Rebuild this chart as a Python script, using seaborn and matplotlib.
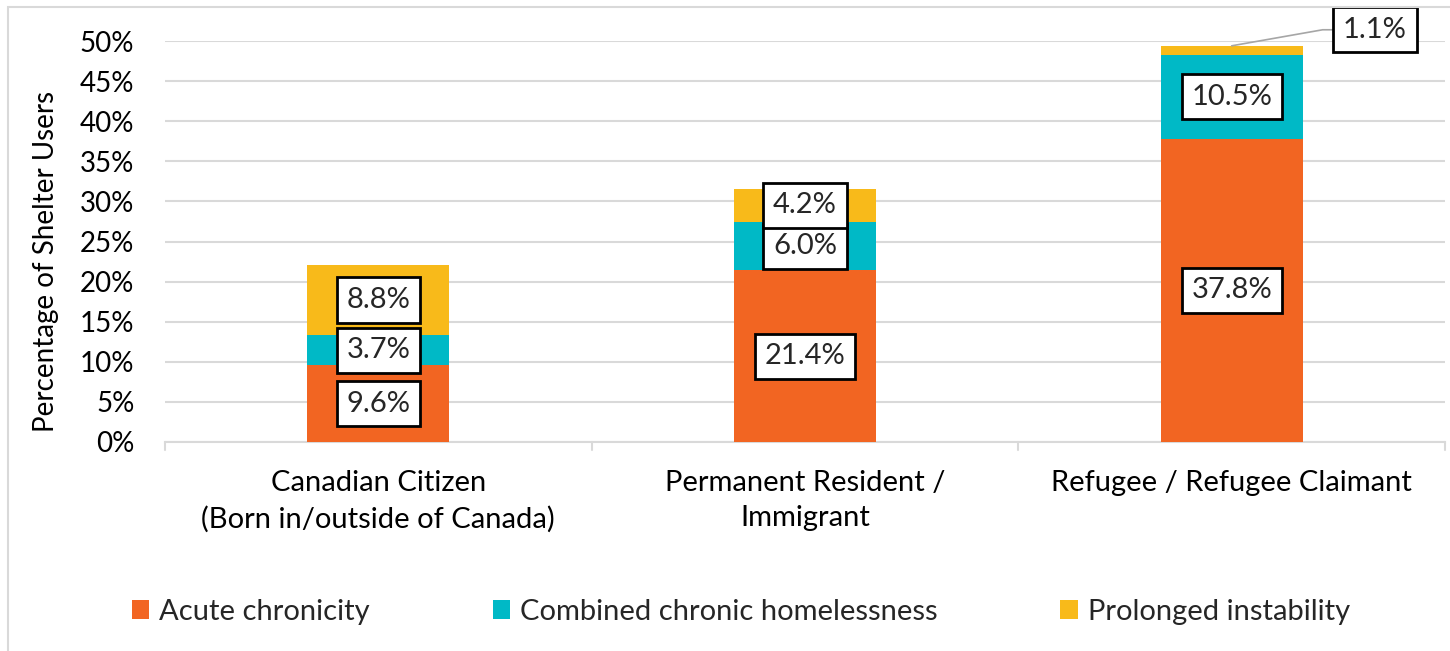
import matplotlib
matplotlib.use("Agg")
import matplotlib.pyplot as plt
from matplotlib.patches import Rectangle, Patch
from matplotlib.ticker import PercentFormatter, FixedLocator
import seaborn as sns
import pandas as pd
import numpy as np

# Shelter users by citizenship status, split by homelessness pattern (%)
categories = [
    "Canadian Citizen\n(Born in/outside of Canada)",
    "Permanent Resident /\nImmigrant",
    "Refugee / Refugee Claimant",
]
acute = [9.6, 21.4, 37.8]
combined = [3.7, 6.0, 10.5]
prolonged = [8.8, 4.2, 1.1]

series_names = ["Acute chronicity", "Combined chronic homelessness", "Prolonged instability"]
series_values = [acute, combined, prolonged]
colors = ["#F26522", "#00B9C6", "#F8BA1A"]

sns.set_theme(style="white")
plt.rcParams["font.family"] = ["Lato", "DejaVu Sans"]

fig = plt.figure(figsize=(14.5, 6.51), dpi=100)
ax = fig.add_axes([165 / 1450, 1 - 442 / 651, 1280 / 1450, 401 / 651])

# Outer frame
fig.patches.append(Rectangle((8 / 1450, -0.1), 1.2, 1.1 - 7 / 651, transform=fig.transFigure,
                             fill=False, edgecolor="#d9d9d9", linewidth=1.5, zorder=0))

vals = np.array(series_values)
cum = np.cumsum(vals, axis=0)

# Draw cumulative totals from the top layer down so each lower layer covers the one above
for i in reversed(range(len(series_names))):
    df = pd.DataFrame({"cat": categories, "val": cum[i]})
    sns.barplot(data=df, x="cat", y="val", color=colors[i], saturation=1,
                width=1 / 3, ax=ax, zorder=3, linewidth=0)

ax.set_ylim(0, 50)
ax.set_xlim(-0.5, 2.5)
ax.yaxis.set_major_locator(FixedLocator(np.arange(0, 51, 5)))
ax.yaxis.set_major_formatter(PercentFormatter(decimals=0))
ax.grid(axis="y", color="#d9d9d9", linewidth=1.5, zorder=0)
ax.set_axisbelow(True)
for s in ["top", "right", "left"]:
    ax.spines[s].set_visible(False)
ax.spines["bottom"].set_color("#d9d9d9")
ax.spines["bottom"].set_linewidth(1.5)
ax.spines["bottom"].set_zorder(1)

ax.tick_params(axis="y", labelsize=20, length=0, pad=22, colors="black")
ax.tick_params(axis="x", labelsize=21, length=0, pad=20, colors="black")
ax.set_xlabel("")
ax.set_ylabel("Percentage of Shelter Users", fontsize=20, color="black")
ax.yaxis.set_label_coords(-0.083, 0.45)
for lab in ax.get_xticklabels():
    lab.set_linespacing(1.45)

# Category separator ticks under the axis line
for b in [-0.5, 0.5, 1.5, 2.5]:
    ax.plot([b, b], [0, -1.0], color="#d9d9d9", linewidth=1.5, clip_on=False, zorder=1)

box = dict(boxstyle="square,pad=0.33", facecolor="white", edgecolor="black", linewidth=2)

# Segment value labels
for i in range(len(series_names)):
    for j in range(len(categories)):
        v = vals[i, j]
        mid = cum[i, j] - v / 2
        if i == 2 and j == 2:
            ax.annotate(f"{v:.1f}%", xy=(j, cum[i, j]), xytext=(2.336, 51.4),
                        ha="center", va="center", fontsize=21, bbox=box,
                        annotation_clip=False, zorder=6,
                        arrowprops=dict(arrowstyle="-", color="#a6a6a6", lw=1.2,
                                        connectionstyle="angle,angleA=0,angleB=10,rad=0",
                                        shrinkA=0, shrinkB=0))
        else:
            ax.text(j, mid, f"{v:.1f}%", ha="center", va="center", fontsize=21,
                    bbox=box, zorder=6)

# Legend
handles = [Patch(facecolor=c, edgecolor="none") for c in colors]
fig.legend(handles, series_names, loc="center", bbox_to_anchor=(0.511, 1 - 612 / 651),
           ncol=3, frameon=False, fontsize=21, handlelength=0.6, handleheight=0.6,
           handletextpad=0.35, columnspacing=4.2)

fig.savefig("out.png", dpi=100)
